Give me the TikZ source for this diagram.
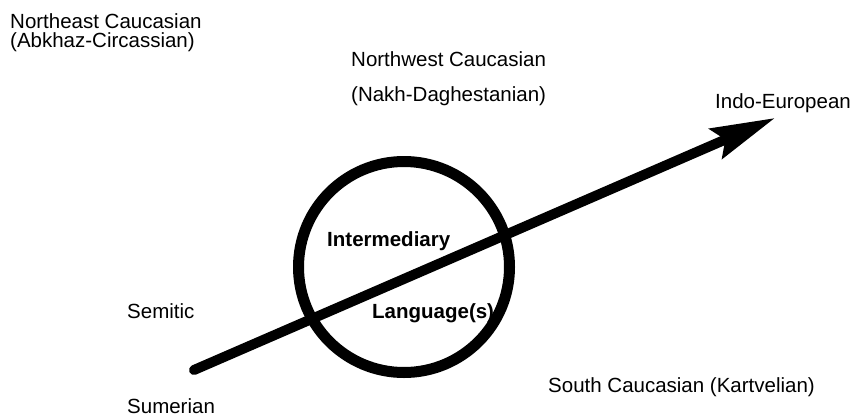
\documentclass[tikz,border=0pt]{standalone}
\usepackage{fontspec}
\setmainfont{Liberation Sans}
\usetikzlibrary{arrows.meta}
\begin{document}
\begin{tikzpicture}[x=1pt,y=-1pt,
  lbl/.style={anchor=base west,inner sep=0pt,font=\fontsize{20.5}{22}\selectfont},
  blbl/.style={lbl,font=\fontsize{20.5}{22}\selectfont\bfseries},
  ring/.style={draw=black,line width=11pt},
  bigarrow/.style={draw=black,line width=10pt,line cap=round,-{Stealth[length=64pt,width=32pt,inset=10pt]}}]
\useasboundingbox[fill=white] (0,0) rectangle (860,416);
\node[lbl] (ne1) at (10,28) {Northeast Caucasian};
\node[lbl] (ne2) at (10,47) {(Abkhaz-Circassian)};
\node[lbl] (nw1) at (351,66) {Northwest Caucasian};
\node[lbl] (nw2) at (351,101) {(Nakh-Daghestanian)};
\node[lbl] (ie) at (715,108) {Indo-European};
\node[lbl] (sem) at (127,318) {Semitic};
\node[lbl] (sum) at (127,413) {Sumerian};
\node[lbl] (sc) at (548,392) {South Caucasian (Kartvelian)};
\coordinate (cc) at (404,267);
\draw[ring] (cc) circle[radius=105.5];
\node[blbl] (int) at (327,246) {Intermediary};
\node[blbl] (lang) at (372,318) {Language(s)};
\coordinate (tail) at (194,370);
\coordinate (tip) at (775,118);
\draw[bigarrow] (tail) -- (tip);
\end{tikzpicture}
\end{document}
